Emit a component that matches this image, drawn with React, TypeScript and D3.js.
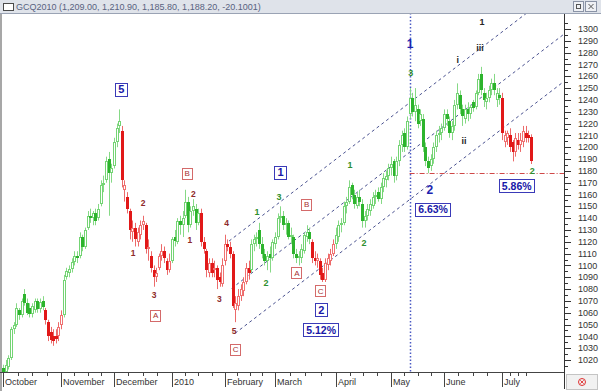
import React from 'react';
import * as d3 from 'd3';

type C = [number, number, number, number];

const titleText = 'GCQ2010 (1,209.00, 1,210.90, 1,185.80, 1,188.20, -20.1001)';

const sep: C[] = [[1018, 1020, 1010, 1013]];
const oct: C[] = [
  [1013, 1016, 1006, 1010], [1010, 1020, 1008, 1016], [1014, 1024, 1012, 1022], [1022, 1048, 1020, 1046],
  [1046, 1052, 1042, 1050], [1050, 1068, 1048, 1064], [1062, 1064, 1054, 1058], [1058, 1072, 1056, 1070],
  [1076, 1080, 1066, 1068], [1068, 1072, 1058, 1060], [1064, 1068, 1056, 1059], [1059, 1068, 1056, 1066],
  [1062, 1072, 1060, 1070], [1070, 1072, 1060, 1063], [1063, 1072, 1060, 1069], [1070, 1074, 1062, 1065],
  [1062, 1064, 1050, 1054], [1052, 1054, 1036, 1040], [1044, 1048, 1034, 1037], [1040, 1046, 1032, 1036],
  [1040, 1046, 1034, 1038], [1040, 1052, 1036, 1048],
];
const nov: C[] = [
  [1050, 1062, 1046, 1058], [1058, 1092, 1056, 1088], [1090, 1098, 1088, 1095], [1094, 1100, 1090, 1097],
  [1097, 1106, 1094, 1103], [1103, 1112, 1100, 1108], [1108, 1112, 1102, 1106], [1108, 1128, 1106, 1124],
  [1124, 1126, 1112, 1116], [1116, 1132, 1114, 1130], [1132, 1146, 1130, 1142], [1142, 1148, 1136, 1140],
  [1140, 1146, 1134, 1144], [1144, 1148, 1134, 1138], [1140, 1152, 1138, 1148], [1152, 1172, 1150, 1168],
  [1168, 1176, 1162, 1170], [1172, 1192, 1170, 1188], [1190, 1196, 1142, 1178], [1178, 1186, 1170, 1182],
];
const dec: C[] = [
  [1184, 1208, 1182, 1204], [1204, 1220, 1200, 1216], [1218, 1232, 1212, 1222], [1214, 1218, 1166, 1172],
  [1164, 1172, 1154, 1168], [1158, 1162, 1144, 1148], [1146, 1148, 1122, 1130], [1128, 1138, 1120, 1132],
  [1132, 1136, 1116, 1122], [1120, 1132, 1116, 1128], [1126, 1138, 1122, 1134], [1134, 1142, 1130, 1138],
  [1134, 1136, 1110, 1114], [1114, 1122, 1104, 1116], [1108, 1112, 1094, 1098], [1096, 1100, 1082, 1090],
  [1090, 1098, 1086, 1094], [1098, 1110, 1096, 1108], [1108, 1118, 1104, 1112], [1112, 1116, 1102, 1106],
  [1104, 1106, 1092, 1096], [1096, 1110, 1094, 1104],
];
const jan: C[] = [
  [1104, 1124, 1102, 1122], [1124, 1130, 1116, 1121], [1120, 1140, 1118, 1138], [1138, 1142, 1126, 1134],
  [1134, 1146, 1124, 1140], [1142, 1164, 1140, 1154], [1154, 1158, 1128, 1134], [1134, 1150, 1132, 1146],
  [1146, 1156, 1142, 1150], [1148, 1152, 1130, 1136], [1136, 1148, 1134, 1144], [1144, 1148, 1116, 1120],
  [1120, 1124, 1110, 1114], [1112, 1114, 1090, 1096], [1094, 1106, 1090, 1102], [1102, 1106, 1090, 1094],
  [1096, 1104, 1090, 1098], [1098, 1100, 1080, 1088], [1090, 1094, 1082, 1086], [1084, 1106, 1082, 1100],
];
const feb: C[] = [
  [1104, 1126, 1100, 1118], [1118, 1122, 1112, 1116], [1116, 1120, 1106, 1110], [1110, 1112, 1064, 1066],
  [1062, 1074, 1052, 1068], [1066, 1080, 1062, 1074], [1074, 1084, 1070, 1080], [1078, 1090, 1074, 1086],
  [1086, 1102, 1084, 1098], [1098, 1104, 1088, 1094], [1096, 1122, 1094, 1118], [1118, 1126, 1112, 1122],
  [1122, 1128, 1116, 1124], [1130, 1136, 1114, 1118], [1118, 1124, 1106, 1110], [1110, 1114, 1100, 1104],
  [1104, 1112, 1096, 1108], [1110, 1116, 1094, 1106], [1106, 1122, 1104, 1120],
];
const mar: C[] = [
  [1118, 1128, 1114, 1124], [1124, 1144, 1122, 1140], [1140, 1150, 1136, 1142], [1142, 1146, 1130, 1134],
  [1134, 1140, 1126, 1136], [1136, 1138, 1122, 1124], [1124, 1132, 1118, 1126], [1124, 1126, 1106, 1110],
  [1110, 1114, 1102, 1106], [1106, 1112, 1100, 1108], [1106, 1118, 1102, 1114], [1112, 1128, 1110, 1126],
  [1124, 1134, 1120, 1128], [1128, 1132, 1118, 1122], [1120, 1122, 1102, 1106], [1106, 1112, 1100, 1104],
  [1104, 1110, 1098, 1106], [1104, 1106, 1088, 1092], [1094, 1098, 1086, 1088], [1088, 1106, 1086, 1102],
  [1100, 1110, 1096, 1106], [1104, 1114, 1100, 1110], [1110, 1122, 1108, 1118],
];
const apr: C[] = [
  [1118, 1132, 1114, 1126], [1124, 1138, 1120, 1134], [1134, 1140, 1128, 1136], [1136, 1154, 1134, 1150],
  [1150, 1158, 1144, 1154], [1154, 1172, 1152, 1166], [1168, 1170, 1156, 1160], [1160, 1164, 1148, 1152],
  [1150, 1162, 1148, 1158], [1158, 1164, 1150, 1154], [1152, 1156, 1132, 1138], [1138, 1146, 1132, 1142],
  [1142, 1152, 1138, 1148], [1146, 1156, 1142, 1152], [1150, 1162, 1148, 1158], [1158, 1164, 1152, 1160],
  [1162, 1166, 1154, 1156], [1156, 1170, 1152, 1166], [1166, 1178, 1162, 1174], [1172, 1180, 1166, 1176],
  [1176, 1186, 1172, 1182],
];
const may: C[] = [
  [1182, 1192, 1176, 1186], [1188, 1190, 1170, 1176], [1176, 1192, 1172, 1188], [1188, 1206, 1184, 1202],
  [1202, 1214, 1196, 1210], [1212, 1216, 1196, 1200], [1200, 1226, 1198, 1222], [1228, 1250, 1224, 1242],
  [1242, 1246, 1226, 1230], [1230, 1250, 1222, 1236], [1232, 1236, 1216, 1220], [1222, 1232, 1218, 1228],
  [1224, 1228, 1196, 1200], [1200, 1204, 1184, 1188], [1188, 1192, 1178, 1182], [1184, 1194, 1180, 1190],
  [1190, 1204, 1186, 1200], [1200, 1214, 1196, 1210], [1210, 1218, 1204, 1212], [1212, 1220, 1206, 1216],
];
const jun: C[] = [
  [1216, 1232, 1214, 1228], [1228, 1232, 1218, 1224], [1222, 1226, 1208, 1212], [1212, 1222, 1206, 1218],
  [1218, 1240, 1214, 1236], [1236, 1254, 1232, 1246], [1244, 1248, 1228, 1232], [1232, 1236, 1218, 1226],
  [1224, 1236, 1220, 1232], [1232, 1238, 1222, 1228], [1228, 1236, 1224, 1234], [1238, 1240, 1230, 1233],
  [1234, 1248, 1232, 1246], [1246, 1262, 1244, 1258], [1262, 1268, 1244, 1248], [1246, 1250, 1234, 1240],
  [1238, 1246, 1232, 1242], [1242, 1252, 1238, 1248], [1248, 1258, 1244, 1254], [1254, 1262, 1244, 1248],
  [1240, 1250, 1234, 1246], [1244, 1250, 1236, 1242],
];
const jul: C[] = [
  [1242, 1246, 1206, 1212], [1204, 1214, 1200, 1210], [1208, 1214, 1202, 1212], [1210, 1216, 1196, 1200],
  [1204, 1206, 1188, 1196], [1196, 1212, 1192, 1208], [1206, 1212, 1198, 1202], [1202, 1212, 1196, 1206],
  [1204, 1218, 1200, 1214], [1212, 1218, 1204, 1208], [1210, 1214, 1204, 1208], [1209, 1210.9, 1185.8, 1188.2],
];

const monthLabels = ['October', 'November', 'December', '2010', 'February', 'March', 'April', 'May', 'June', 'July'];
const monthData = [oct, nov, dec, jan, feb, mar, apr, may, jun, jul];

// trend state changes: [first bar index, trend]
const trendChanges: [number, 'up' | 'down'][] = [
  [0, 'down'], [1, 'up'], [17, 'down'], [24, 'up'], [46, 'down'], [65, 'up'],
  [76, 'down'], [95, 'up'], [118, 'down'], [127, 'up'], [190, 'down'],
];

const yTickValues = d3.range(1020, 1301, 10);

// annotations in data coordinates: [text, bar index, price]
const blueBoxes: [string, number, number][] = [
  ['5', 45.6, 1249.1], ['1', 105.9, 1179], ['2', 121.4, 1062.7],
  ['5.12%', 121.3, 1045.6], ['6.63%', 163.7, 1147.7], ['5.86%', 195.4, 1167.3],
];
const redBoxes: [string, number, number][] = [
  ['B', 70.6, 1177.8], ['A', 58.6, 1058], ['C', 88.9, 1029.3],
  ['B', 115.8, 1151.9], ['A', 112.1, 1093.8], ['C', 121.1, 1078.6],
];
const redWaves: [string, number, number][] = [
  ['2', 54.1, 1153], ['1', 50.3, 1110.2], ['3', 58.2, 1075], ['1', 71.8, 1121.5],
  ['2', 73.1, 1160.2], ['4', 85.7, 1135.6], ['3', 82.9, 1071.3], ['5', 88.5, 1044.8],
];
const greenWaves: [string, number, number][] = [
  ['1', 97.2, 1145.2], ['3', 105.5, 1157.6], ['2', 100.6, 1084.9], ['1', 132.4, 1184.9],
  ['2', 137.7, 1118.7], ['3', 155.4, 1262.5], ['2', 201.5, 1179.9],
];
const blackWaves: [string, number, number][] = [
  ['i', 173.2, 1273.8], ['iii', 181.7, 1283.7], ['ii', 175.6, 1205.2], ['1', 182.4, 1305.9],
];
const blueWaves: [string, number, number][] = [
  ['1', 155.2, 1287.3], ['2', 162.7, 1163.8],
];

const channels: [number, number][][] = [
  [[86.6, 1120.6], [213.1, 1337]],
  [[87.6, 1080.6], [213.1, 1295]],
  [[88.9, 1042.6], [213.1, 1255]],
];
const markerBar = 155;
const supportLevel = 1178.6;

const W = 601;
const H = 391;
const PL = 2;
const PR = 564;
const PT = 13;
const PB = 372;
const FONT = '"Liberation Sans", Arial, sans-serif';

export default function App() {
  const bars: C[] = [...sep, ...monthData.flat()];
  const monthStarts: number[] = [];
  let acc = sep.length;
  monthData.forEach((m) => { monthStarts.push(acc); acc += m.length; });

  const x = d3.scaleLinear().domain([0, 201]).range([0.4, 0.4 + 2.64 * 201]);
  const y = d3.scaleLinear().domain([1020, 1300]).range([360, 29]);

  const trendAt = (i: number) => {
    let t: 'up' | 'down' = 'up';
    for (const [s, tr] of trendChanges) if (i >= s) t = tr;
    return t;
  };
  const colors = {
    up: { hollow: '#74d474', fill: '#2db42d', wick: '#86d986' },
    down: { hollow: '#f07272', fill: '#e11818', wick: '#ec6a6a' },
  };

  const line = d3.line<[number, number]>().x((d) => x(d[0])).y((d) => y(d[1]));

  const minorTicks = d3.range(1015, 1311, 5).filter((v) => v % 10 !== 0);

  const xMinor: number[] = [];
  monthStarts.forEach((s, k) => {
    const len = monthData[k].length;
    for (let q = 1; q <= 3; q++) xMinor.push(s + (len * q) / 4);
  });

  return (
    <svg width={W} height={H} style={{ position: 'absolute', left: 0, top: 0, background: '#fff' }}
      fontFamily={FONT}>
      <defs>
        <clipPath id="plotClip">
          <rect x={PL} y={PT + 1} width={PR - PL} height={PB - PT - 1} />
        </clipPath>
      </defs>
      <rect x={0} y={0} width={W} height={H} fill="#ffffff" />

      {/* title bar */}
      <rect x={0} y={0} width={W} height={13} fill="#dfe3ea" />
      <line x1={0} x2={W} y1={13.5} y2={13.5} stroke="#9aa3b4" />
      <rect x={3.5} y={3.5} width={10} height={7} fill="#fff" stroke="#4a4a4a" />
      <text x={16} y={10} fontSize={9} fill="#58627f">{titleText}</text>
      <rect x={573.5} y={1.5} width={10} height={10} fill="#eef0f4" stroke="#8a93a6" />
      <rect x={576.5} y={4.5} width={4} height={4} fill="none" stroke="#555" />
      <rect x={585.5} y={1.5} width={11} height={10} fill="#eef0f4" stroke="#8a93a6" />
      <path d="M588.5,4 L593.5,9 M593.5,4 L588.5,9" stroke="#555" strokeWidth={1} />

      {/* left border */}
      <line x1={1} x2={1} y1={14} y2={H} stroke="#8a8a8a" strokeWidth={1.5} />

      <g clipPath="url(#plotClip)">
        {/* channel lines */}
        {channels.map((c, k) => (
          <path key={k} d={line(c) || ''} fill="none" stroke="#4a5290" strokeWidth={1} strokeDasharray="3,3" />
        ))}
        {/* marker vertical */}
        <line x1={Math.round(x(markerBar)) + 0.5} x2={Math.round(x(markerBar)) + 0.5} y1={PT} y2={PB}
          stroke="#4b5bc4" strokeWidth={1.5} strokeDasharray="1.5,2" />
        {/* support */}
        <line x1={x(markerBar)} x2={PR} y1={Math.round(y(supportLevel)) + 0.5} y2={Math.round(y(supportLevel)) + 0.5}
          stroke="#d04848" strokeWidth={1} strokeDasharray="5,2,1,2" />

        {/* candles */}
        {bars.map((b, i) => {
          const [o, h, l, c] = b;
          const cx = Math.round(x(i));
          const col = colors[trendAt(i)];
          const up = c >= o;
          const top = Math.round(y(Math.max(o, c)));
          const bot = Math.round(y(Math.min(o, c)));
          const bh = Math.max(1, bot - top);
          return (
            <g key={i}>
              <line x1={cx + 0.5} x2={cx + 0.5} y1={y(h)} y2={y(l)} stroke={col.wick} strokeWidth={1} />
              {up ? (
                <rect x={cx - 0.5} y={top + 0.5} width={2} height={Math.max(1, bh - 1)} fill="#fff" stroke={col.hollow} strokeWidth={1} />
              ) : (
                <rect x={cx - 1} y={top} width={3} height={bh} fill={col.fill} />
              )}
            </g>
          );
        })}

        {/* wave labels */}
        {redWaves.map(([t, i, p], k) => (
          <text key={'r' + k} x={x(i)} y={y(p)} dy="0.35em" textAnchor="middle" fontSize={8.5} fontWeight={700} fill="#8e2a2a">{t}</text>
        ))}
        {greenWaves.map(([t, i, p], k) => (
          <text key={'g' + k} x={x(i)} y={y(p)} dy="0.35em" textAnchor="middle" fontSize={9} fontWeight={700} fill="#2f8f2f">{t}</text>
        ))}
        {blackWaves.map(([t, i, p], k) => (
          <text key={'k' + k} x={x(i)} y={y(p)} dy="0.35em" textAnchor="middle" fontSize={9} fontWeight={700} fill="#262626">{t}</text>
        ))}
        {blueWaves.map(([t, i, p], k) => (
          <text key={'b' + k} x={x(i)} y={y(p)} dy="0.35em" textAnchor="middle" fontSize={12} fontWeight={700} fill="#1c24b0">{t}</text>
        ))}
        {redBoxes.map(([t, i, p], k) => {
          const cx = x(i);
          const cy = y(p);
          return (
            <g key={'rb' + k}>
              <rect x={Math.round(cx - 5) + 0.5} y={Math.round(cy - 5.5) + 0.5} width={10} height={11} fill="#fff" stroke="#d46a6a" />
              <text x={cx + 0.5} y={cy} dy="0.36em" textAnchor="middle" fontSize={8} fill="#a83030">{t}</text>
            </g>
          );
        })}
        {blueBoxes.map(([t, i, p], k) => {
          const cx = x(i);
          const cy = y(p);
          const w = t.length > 1 ? 35 : 12;
          return (
            <g key={'bb' + k}>
              <rect x={Math.round(cx - w / 2) + 0.5} y={Math.round(cy - 6.5) + 0.5} width={w} height={13} fill="#fff" stroke="#3a3ab8" />
              <text x={cx + 0.5} y={cy} dy="0.37em" textAnchor="middle" fontSize={t.length > 1 ? 10.5 : 11} fontWeight={700} fill="#1818a8">{t}</text>
            </g>
          );
        })}
      </g>

      {/* right axis */}
      <line x1={PR + 0.5} x2={PR + 0.5} y1={14} y2={389} stroke="#333" />
      {yTickValues.map((v) => (
        <g key={v}>
          <line x1={PR} x2={PR + 7} y1={Math.round(y(v)) + 0.5} y2={Math.round(y(v)) + 0.5} stroke="#333" />
          <text x={578} y={y(v)} dy="0.35em" fontSize={9} fill="#333">{v}</text>
        </g>
      ))}
      {minorTicks.map((v) => (
        <line key={'m' + v} x1={PR} x2={PR + 4} y1={Math.round(y(v)) + 0.5} y2={Math.round(y(v)) + 0.5} stroke="#333" />
      ))}

      {/* bottom axis */}
      <line x1={0} x2={PR} y1={PB + 0.5} y2={PB + 0.5} stroke="#444" />
      {xMinor.map((v, k) => (
        <line key={'xm' + k} x1={Math.round(x(v)) + 0.5} x2={Math.round(x(v)) + 0.5} y1={PB} y2={PB + 4} stroke="#444" />
      ))}
      {monthStarts.map((s, k) => (
        <g key={'ms' + k}>
          <line x1={Math.round(x(s)) + 0.5} x2={Math.round(x(s)) + 0.5} y1={PB} y2={PB + 15} stroke="#444" />
          <text x={Math.round(x(s)) + 2} y={385} fontSize={9} fill="#333">{monthLabels[k]}</text>
        </g>
      ))}

      {/* corner box */}
      <rect x={566.5} y={374.5} width={31} height={15} fill="#f1f1f1" stroke="#c4c4c4" />
      <circle cx={582} cy={382} r={3.5} fill="none" stroke="#e03030" strokeWidth={1} />
      <path d="M580.3,380.3 L583.7,383.7 M583.7,380.3 L580.3,383.7" stroke="#e03030" strokeWidth={0.9} />
    </svg>
  );
}
